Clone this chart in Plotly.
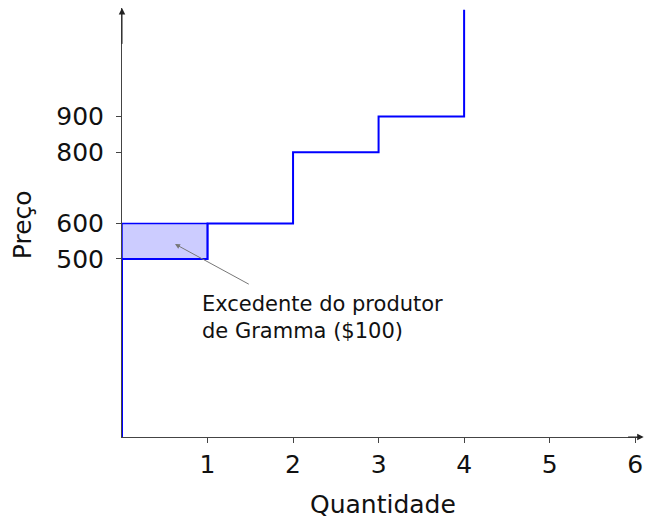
import plotly.graph_objects as go

# Data
quantities = [0, 0, 1, 2, 3, 4]
prices = [0, 500, 600, 800, 900, 1200]
surplus_x = [0, 1, 1, 0, 0]
surplus_y = [500, 500, 600, 600, 500]
x_ticks = [1, 2, 3, 4, 5, 6]
y_ticks = [500, 600, 800, 900]
note_text = "Excedente do produtor<br>de Gramma ($100)"

FONT = "DejaVu Sans"
AX = "#444444"

fig = go.Figure()
fig.add_trace(go.Scatter(
    x=surplus_x, y=surplus_y, fill="toself", fillcolor="#ccccff",
    mode="lines", line=dict(color="#0000ff", width=1.5), hoverinfo="skip"))
fig.add_trace(go.Scatter(
    x=quantities, y=prices, mode="lines", line_shape="hv",
    line=dict(color="#0000ff", width=2), hoverinfo="skip", cliponaxis=False))

# axis arrows
fig.add_annotation(x=6.1, y=0, ax=5.9, ay=0, xref="x", yref="y", axref="x", ayref="y",
                   showarrow=True, arrowhead=2, arrowsize=1.3, arrowwidth=1, arrowcolor="#222",
                   text="")
fig.add_annotation(x=0, y=1205, ax=0, ay=1100, xref="x", yref="y", axref="x", ayref="y",
                   showarrow=True, arrowhead=2, arrowsize=1.3, arrowwidth=1, arrowcolor="#222",
                   text="")

# surplus annotation arrow
fig.add_annotation(x=0.62, y=542, ax=1.5, ay=427, xref="x", yref="y", axref="x", ayref="y",
                   showarrow=True, arrowhead=2, arrowsize=1, arrowwidth=1, arrowcolor="#777777",
                   text="")
fig.add_annotation(x=0.915, y=335, xref="x", yref="y", text=note_text, showarrow=False,
                   xanchor="left", yanchor="middle", align="left",
                   font=dict(family=FONT, size=21, color="#111"))

# axis titles
fig.add_annotation(x=0.502, y=-0.157, xref="paper", yref="paper", text="Quantidade",
                   showarrow=False, xanchor="center", yanchor="middle",
                   font=dict(family=FONT, size=25, color="#111"))
fig.add_annotation(x=-0.192, y=0.494, xref="paper", yref="paper", text="Preço",
                   showarrow=False, xanchor="center", yanchor="middle", textangle=-90,
                   font=dict(family=FONT, size=25, color="#111"))

fig.update_layout(
    width=650, height=520,
    margin=dict(l=122, r=8, t=8, b=83),
    plot_bgcolor="white", paper_bgcolor="white",
    showlegend=False,
    font=dict(family=FONT, color="#111"),
)
fig.update_xaxes(
    range=[0, 6.08], tickvals=x_ticks, ticktext=[str(v) for v in x_ticks],
    showgrid=False, zeroline=False, showline=True, linecolor=AX, linewidth=1,
    ticks="outside", ticklen=5, tickcolor=AX, automargin=False,
    tickfont=dict(family=FONT, size=25, color="#111"),
)
fig.update_yaxes(
    range=[0, 1205], tickvals=y_ticks, ticktext=[str(v) for v in y_ticks],
    showgrid=False, zeroline=False, showline=True, linecolor=AX, linewidth=1,
    ticks="outside", ticklen=5, tickcolor=AX, automargin=False, ticklabelstandoff=7,
    tickfont=dict(family=FONT, size=25, color="#111"),
)

fig.write_html("out.html", config={"displayModeBar": False},
               post_script="document.body.style.margin='0';document.body.style.padding='0';")
